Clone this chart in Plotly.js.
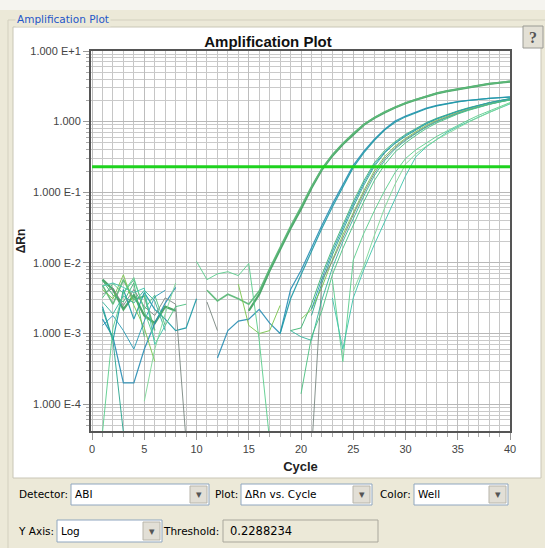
<!DOCTYPE html>
<html><head><meta charset="utf-8">
<script src="https://cdn.plot.ly/plotly-3.0.1.min.js"></script>
<style>html,body{margin:0;padding:0;background:#ece9d8;overflow:hidden}#chart{width:545px;height:548px}</style>
</head><body><div id="chart"></div>
<script>
// ---------- data ----------
const cycles = [1,2,3,4,5,6,7,8,9,10,11,12,13,14,15,16,17,18,19,20,21,22,23,24,25,26,27,28,29,30,31,32,33,34,35,36,37,38,39,40];
const threshold = 0.2288234;
const yTickVals = [0.0001, 0.001, 0.01, 0.1, 1, 10];
const yTickText = ['1.000 E-4', '1.000 E-3', '1.000 E-2', '1.000 E-1', '1.000', '1.000 E+1'];
const xTickVals = [0,5,10,15,20,25,30,35,40];

const wellA1 = [0.0058,0.0042,0.0022,0.0035,0.0018,0.0014,0.0024,0.0021,null,null,null,null,null,null,0.0021,0.0036,0.0078,0.0155,0.031,0.058,0.115,0.21,0.33,0.48,0.66,0.90,1.12,1.35,1.58,1.82,2.04,2.29,2.51,2.70,2.88,3.09,3.27,3.43,3.55,3.69];
const wellA2 = [0.0048,0.0026,0.0058,0.0030,0.0034,0.0011,null,null,null,null,0.0041,0.0029,0.0036,0.0031,0.0026,0.0040,0.0083,0.0165,0.033,0.062,0.12,0.215,0.34,0.49,0.68,0.91,1.14,1.37,1.60,1.84,2.06,2.30,2.52,2.72,2.90,3.10,3.28,3.44,3.57,3.72];
const wellB1 = [0.0016,0.0009,0.0002,0.0002,0.0006,0.0014,0.0027,0.0045,null,null,null,0.00045,0.0011,0.0015,0.0016,0.0022,0.0014,0.0010,0.0042,0.0078,0.0165,0.034,0.068,0.13,0.24,0.38,0.56,0.78,1.02,1.20,1.38,1.55,1.70,1.82,1.92,2.00,2.08,2.14,2.19,2.24];
const wellB2 = [0.0024,0.0008,0.0042,0.0016,0.0038,0.0022,0.0016,0.0011,0.0012,0.0031,null,null,null,null,null,null,null,0.0010,0.0031,0.0068,0.0148,0.031,0.062,0.12,0.225,0.36,0.54,0.76,0.98,1.17,1.35,1.52,1.67,1.80,1.90,1.99,2.07,2.13,2.18,2.22];
const wellC1 = [0.0056,0.0035,0.0028,0.0052,0.0009,null,null,null,null,null,null,null,null,null,null,null,null,null,0.0011,0.0012,0.0026,0.0068,0.016,0.035,0.074,0.145,0.26,0.39,0.52,0.66,0.81,0.97,1.12,1.27,1.42,1.57,1.72,1.86,1.99,2.12];
const wellC2 = [0.0022,0.0008,0.00004,null,null,null,null,null,null,null,null,null,null,null,null,null,null,null,null,null,0.0018,0.0052,0.013,0.029,0.062,0.125,0.23,0.36,0.49,0.62,0.77,0.93,1.09,1.24,1.39,1.54,1.69,1.84,1.97,2.10];
const wellC3 = [0.0042,0.0031,0.0068,0.0025,0.0012,0.0004,null,null,null,null,null,null,null,0.0050,0.0013,0.0010,0.0011,0.0025,null,0.0016,0.0022,0.0045,0.011,0.025,0.052,0.105,0.20,0.32,0.45,0.58,0.72,0.89,1.05,1.20,1.35,1.50,1.66,1.82,1.95,2.09];
const wellC4 = [0.0036,0.0044,0.0025,0.0042,0.0024,0.0018,0.0032,0.0026,0.00003,null,0.0028,0.0011,null,null,null,null,null,null,null,null,0.00002,0.0058,0.0105,0.023,0.048,0.097,0.185,0.30,0.43,0.56,0.70,0.86,1.02,1.17,1.32,1.47,1.62,1.77,1.90,2.03];
const wellC5 = [0.0028,0.0019,0.0034,0.0027,0.0041,0.0029,0.0011,null,null,null,null,null,null,null,null,null,null,null,0.0011,0.0009,0.0008,0.0030,0.0085,0.020,0.042,0.088,0.17,0.28,0.41,0.54,0.68,0.84,1.00,1.15,1.30,1.46,1.61,1.76,1.90,2.04];
const wellC6 = [0.0032,0.0051,0.0037,0.0058,0.0022,0.0035,0.0013,0.0024,0.0026,null,null,null,null,null,null,null,null,null,null,0.00014,0.0009,0.0021,0.0068,0.016,0.034,0.073,0.145,0.245,0.37,0.50,0.64,0.80,0.96,1.12,1.28,1.44,1.60,1.75,1.89,2.02];
const wellC7 = [0.0013,0.0018,0.0011,0.0006,0.0015,0.0033,0.0041,null,null,null,null,null,null,null,null,null,null,null,null,null,0.0022,0.0060,0.0145,0.032,0.068,0.135,0.245,0.37,0.50,0.64,0.79,0.95,1.10,1.25,1.40,1.55,1.70,1.85,1.98,2.11];
const wellD1 = [0.00004,0.0012,0.0038,0.0062,0.0021,0.0008,null,null,null,0.0105,0.0058,0.0070,0.0075,0.0066,0.0098,0.0008,0.00003,null,null,null,null,null,0.0058,0.0004,0.011,0.026,0.054,0.105,0.19,0.30,0.40,0.50,0.62,0.74,0.89,1.05,1.23,1.41,1.62,1.86];
const wellD2 = [0.0047,0.0052,0.0045,0.0038,0.0044,0.0007,0.0013,null,null,null,null,null,null,null,null,null,null,null,null,null,null,null,0.0032,0.0006,0.0032,0.008,0.018,0.038,0.08,0.17,0.32,0.44,0.56,0.71,0.85,1.00,1.17,1.35,1.55,1.78];
const wellD3 = [null,null,null,null,0.00011,0.0006,0.0019,0.0052,null,null,null,null,null,null,null,null,null,null,null,null,null,null,null,null,0.004,0.009,0.024,0.060,0.13,0.25,0.35,0.45,0.56,0.68,0.82,0.98,1.15,1.34,1.55,1.82];

const wells = [
  {name:'A1', y: wellA1, color:'#3f9f5f', w:2.2},
  {name:'A2', y: wellA2, color:'#5cb878', w:1.6},
  {name:'B1', y: wellB1, color:'#2a8fb5', w:1.2},
  {name:'B2', y: wellB2, color:'#1e9aa6', w:1.2},
  {name:'C1', y: wellC1, color:'#3fb573', w:1},
  {name:'C2', y: wellC2, color:'#2aa58f', w:1},
  {name:'C3', y: wellC3, color:'#7cc64e', w:1},
  {name:'C4', y: wellC4, color:'#7d8a84', w:1},
  {name:'C5', y: wellC5, color:'#36b39c', w:1},
  {name:'C6', y: wellC6, color:'#4cc080', w:1},
  {name:'C7', y: wellC7, color:'#2a9bb5', w:1},
  {name:'D1', y: wellD1, color:'#5dcf8e', w:1},
  {name:'D2', y: wellD2, color:'#3fc4aa', w:1},
  {name:'D3', y: wellD3, color:'#7ed898', w:1}
];

// ---------- geometry helpers (layout only) ----------
const L = 91, R = 510, T = 51, B = 431;
const X = v => (v - L) / (R - L);
const Y = v => (B - v) / (B - T);

const traces = wells.map(w => ({
  type:'scatter', mode:'lines', x: cycles, y: w.y, name: w.name,
  connectgaps:false, line:{color:w.color, width:w.w}, opacity:0.92, hoverinfo:'skip'
}));
traces.push({type:'scatter', mode:'lines', x:[0,40], y:[threshold, threshold],
  line:{color:'#1ed21e', width:3}, hoverinfo:'skip', name:'Threshold'});

const uiFont = {family:'DejaVu Sans, Tahoma, sans-serif', size:10.5, color:'#000'};
const shapes = [];
const annotations = [];
function rect(x0,y0,x1,y1,fill,line,lw){
  shapes.push({type:'rect', xref:'paper', yref:'paper', x0:X(x0), x1:X(x1), y0:Y(y1), y1:Y(y0),
    fillcolor:fill, line:{color:line||fill, width: lw===undefined?1:lw}, layer:'below'});
}
function text(x,y,s,opt){
  annotations.push(Object.assign({xref:'paper', yref:'paper', x:X(x), y:Y(y), text:s, showarrow:false,
    xanchor:'left', yanchor:'middle', font:uiFont}, opt||{}));
}
// background regions
rect(0,0,545,10,'#f5f4ef','#f5f4ef',0);
rect(8,20,560,560,'rgba(0,0,0,0)','#d3d0bf',1);
rect(13,27,541,478,'#ffffff','#c9c6b6',1);
text(15,19,'Amplification Plot',{font:{family:'DejaVu Sans, Tahoma, sans-serif', size:10.5, color:'#2456c8'}, bgcolor:'#ece9d8'});
// help button
rect(523,26,543,48,'#e3e0d5','#9a9a94',1);
text(533,37,'<b>?</b>',{xanchor:'center', font:{family:'Liberation Serif, serif', size:16, color:'#555'}});
// combo boxes
function combo(x0,x1,y0,y1,val){
  rect(x0,y0,x1,y1,'#ffffff','#8fa6bf',1);
  rect(x1-19,y0+2,x1-2,y1-2,'#e2dfd6','#b8b5aa',1);
  text(x1-10.5,(y0+y1)/2,'▾',{xanchor:'center', font:{family:'DejaVu Sans', size:11, color:'#555'}});
  text(x0+2,(y0+y1)/2,val);
}
text(70,494,'Detector:',{xanchor:'right'});
combo(71,209,484,505,'ABI');
text(240,494,'Plot:',{xanchor:'right'});
combo(241,372,484,505,'ΔRn vs. Cycle');
text(413,494,'Color:',{xanchor:'right'});
combo(414,508,484,505,'Well');
text(56,531,'Y Axis:',{xanchor:'right'});
combo(57,162,520,542,'Log');
text(221,531,'Threshold:',{xanchor:'right'});
rect(223,520,378,542,'#ece9d8','#a9a79c',1);
text(228,531,String(threshold),{font:{family:'DejaVu Sans, Tahoma, sans-serif', size:11.5, color:'#000'}});

const axFont = {family:'Liberation Sans, Arial, sans-serif', size:11, color:'#444'};
const layout = {
  width:545, height:548,
  margin:{l:L, r:545-R, t:T, b:548-B, pad:0},
  paper_bgcolor:'#ece9d8', plot_bgcolor:'#ffffff',
  showlegend:false,
  title:{text:'<b>Amplification Plot</b>', xref:'container', x:268/545, xanchor:'center',
    yref:'container', y:1-42/548, yanchor:'middle',
    font:{family:'Liberation Sans Narrow, Arial Narrow, Liberation Sans, Arial, sans-serif', size:15, color:'#111'}},
  xaxis:{range:[-0.1,40], tickmode:'array', tickvals:xTickVals, ticktext:xTickVals.map(String),
    ticks:'outside', ticklen:7, tickcolor:'#999', tickfont:axFont,
    showgrid:true, gridcolor:'#bdbdbd', gridwidth:1, zeroline:false,
    minor:{dtick:1, tick0:0, ticks:'outside', ticklen:4, tickcolor:'#aaa', showgrid:true, gridcolor:'#c6c6c6', gridwidth:1},
    showline:true, linecolor:'#555', linewidth:2, mirror:true,
    title:{text:'<b>Cycle</b>', font:{family:'Liberation Sans, Arial, sans-serif', size:13, color:'#222'}, standoff:8}},
  yaxis:{type:'log', range:[-4.38,1], tickmode:'array', tickvals:yTickVals, ticktext:yTickText,
    ticks:'outside', ticklen:6, tickcolor:'#999', tickfont:axFont,
    showgrid:true, gridcolor:'#b8b8b8', gridwidth:1, zeroline:false,
    minor:{dtick:'D1', ticks:'outside', ticklen:3, tickcolor:'#aaa', showgrid:true, gridcolor:'#cacaca', gridwidth:1},
    showline:true, linecolor:'#555', linewidth:2, mirror:true,
    title:{text:'<b>ΔRn</b>', font:{family:'Liberation Sans, Arial, sans-serif', size:12, color:'#222'}, standoff:2}},
  shapes:shapes, annotations:annotations
};
Plotly.newPlot('chart', traces, layout, {staticPlot:true, displayModeBar:false});
</script>
</body></html>
